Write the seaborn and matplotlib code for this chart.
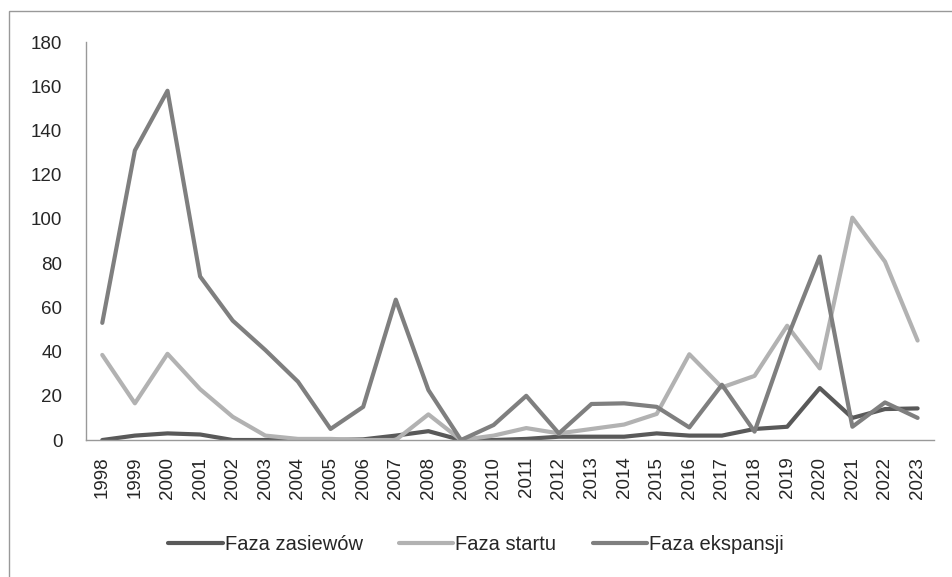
import matplotlib
matplotlib.use("Agg")
import matplotlib.pyplot as plt
import seaborn as sns
import pandas as pd
from matplotlib.patches import Rectangle

years = [str(y) for y in range(1998, 2024)]

zasiewow = [0, 2, 3, 2.5, 0, 0, 0, 0, 0.3, 2, 4, 0, 0, 0.5, 1.5, 1.5, 1.5, 3,
            2, 2, 5, 6, 23.5, 10, 14, 14.3]
startu = [38.5, 16.6, 39, 23, 10.5, 2, 0.5, 0.5, 0, 0, 11.6, 0, 2, 5.4, 3, 5,
          7, 11.8, 38.8, 23.8, 29, 51.7, 32.4, 100.6, 80.7, 45]
ekspansji = [53, 131, 158, 74, 54, 40.7, 26.4, 5, 15, 63.5, 22.6, 0, 6.8, 20,
             3, 16.3, 16.6, 15, 5.7, 25, 3.8, 46, 83, 6, 17, 10]

series = ["Faza zasiewów", "Faza startu", "Faza ekspansji"]
df = pd.concat([
    pd.DataFrame({"rok": years, "wartosc": vals, "faza": name})
    for name, vals in zip(series, [zasiewow, startu, ekspansji])
])

sns.set_style("white")
plt.rcParams["font.family"] = ["Liberation Sans", "DejaVu Sans"]

fig = plt.figure(figsize=(9.52, 5.77), dpi=100)
ax = fig.add_axes([0.0903, 0.2374, 0.8907, 0.6896])

palette = {"Faza zasiewów": "#595959", "Faza startu": "#b2b2b2",
           "Faza ekspansji": "#7f7f7f"}
sns.lineplot(data=df, x="rok", y="wartosc", hue="faza", palette=palette,
             linewidth=3, ax=ax, sort=False)

ax.set_xlim(-0.5, len(years) - 0.5)
ax.set_ylim(0, 180)
ax.set_yticks(range(0, 181, 20))
ax.set_xlabel("")
ax.set_ylabel("")
ax.tick_params(axis="x", rotation=90, labelsize=13.5, length=0, pad=12)
ax.tick_params(axis="y", labelsize=13.5, length=0, pad=17)
for side in ["top", "right"]:
    ax.spines[side].set_visible(False)
for side in ["left", "bottom"]:
    ax.spines[side].set_color("#999999")
    ax.spines[side].set_linewidth(1)

ax.legend_.remove()
handles, labels = ax.get_legend_handles_labels()
fig.legend(handles, labels, loc="center", bbox_to_anchor=(0.5, 0.057), ncol=3,
           frameon=False, fontsize=14.5, handlelength=2.7, columnspacing=1.8,
           handletextpad=0.1)

fig.patches.append(Rectangle((9 / 952, -0.05), 1.2, 1.05 - 11 / 577,
                             transform=fig.transFigure, fill=False,
                             edgecolor="#999999", linewidth=1))

fig.savefig("out.png", dpi=100)
